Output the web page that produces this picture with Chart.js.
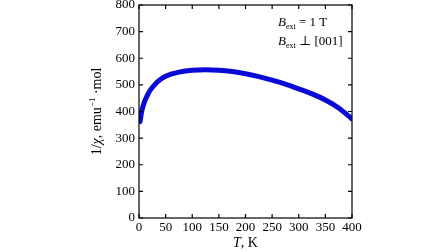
<!DOCTYPE html>
<html>
<head>
<meta charset="utf-8">
<script src="https://cdn.jsdelivr.net/npm/chart.js@4"></script>
<style>
    html, body { margin: 0; padding: 0; background: #fff; }
    #wrap { width: 448px; height: 252px; }
</style>
</head>
<body>
<div id="wrap"><canvas id="chart" width="448" height="252"></canvas></div>
<script>
// temperature, K
const temps = [2, 5, 10, 15, 20, 30, 40, 50, 60, 75, 100, 125, 150, 175, 200, 225, 250, 275, 300, 325, 350, 375, 400];
// inverse susceptibility, emu^-1 mol
const invChi = [362, 400, 435, 458, 477, 502, 520, 532, 540, 548, 555, 557, 555, 550, 542, 531, 518, 503, 485, 466, 443, 413, 372];

const xTicks = [0, 50, 100, 150, 200, 250, 300, 350, 400];
const yTicks = [0, 100, 200, 300, 400, 500, 600, 700, 800];

const serif = '"Liberation Serif", "DejaVu Serif", serif';

// text with an italic symbol and a small subscript
function drawSub(ctx, x, y, main, sub, rest) {
    ctx.textBaseline = 'alphabetic';
    ctx.textAlign = 'left';
    ctx.font = 'italic 13px ' + serif;
    ctx.fillText(main, x, y);
    x += ctx.measureText(main).width;
    ctx.font = '8px ' + serif;
    ctx.fillText(sub, x, y + 3);
    x += ctx.measureText(sub).width;
    ctx.font = '13px ' + serif;
    ctx.fillText(rest, x, y);
}

const framePlugin = {
    id: 'frame',
    afterDraw(chart) {
        const { ctx, chartArea: a, scales } = chart;
        ctx.save();
        ctx.strokeStyle = '#000';
        ctx.lineWidth = 1.2;
        ctx.strokeRect(a.left, a.top, a.right - a.left, a.bottom - a.top);

        // inward ticks on every side
        ctx.beginPath();
        xTicks.forEach(v => {
            const px = scales.x.getPixelForValue(v);
            ctx.moveTo(px, a.bottom); ctx.lineTo(px, a.bottom - 4);
            ctx.moveTo(px, a.top); ctx.lineTo(px, a.top + 4);
        });
        yTicks.forEach(v => {
            const py = scales.y.getPixelForValue(v);
            ctx.moveTo(a.left, py); ctx.lineTo(a.left + 4, py);
            ctx.moveTo(a.right, py); ctx.lineTo(a.right - 4, py);
        });
        ctx.stroke();

        ctx.fillStyle = '#000';

        // x title
        const cx = (a.left + a.right) / 2;
        ctx.textBaseline = 'alphabetic';
        ctx.font = 'italic 14px ' + serif;
        const tW = ctx.measureText('T').width;
        ctx.font = '14px ' + serif;
        const kW = ctx.measureText(', K').width;
        let x0 = cx - (tW + kW) / 2;
        ctx.textAlign = 'left';
        ctx.font = 'italic 14px ' + serif;
        ctx.fillText('T', x0, 247);
        ctx.font = '14px ' + serif;
        ctx.fillText(', K', x0 + tW, 247);

        // y title, rotated
        ctx.save();
        ctx.translate(101, (a.top + a.bottom) / 2);
        ctx.rotate(-Math.PI / 2);
        const parts = [
            ['1/', '14px ', 0],
            ['\u03c7', 'italic 14px ', 0],
            [', emu', '14px ', 0],
            ['\u22121', '9px ', -6],
            [' \u00b7mol', '14px ', 0]
        ];
        let total = 0;
        parts.forEach(p => { ctx.font = p[1] + serif; total += ctx.measureText(p[0]).width; });
        let px = -total / 2;
        parts.forEach(p => {
            ctx.font = p[1] + serif;
            ctx.fillText(p[0], px, p[2]);
            px += ctx.measureText(p[0]).width;
        });
        ctx.restore();

        // field annotation
        drawSub(ctx, 278, 26, 'B', 'ext', ' = 1 T');
        drawSub(ctx, 278, 45, 'B', 'ext', ' \u22a5 [001]');

        ctx.restore();
    }
};

new Chart(document.getElementById('chart'), {
    type: 'line',
    data: {
        datasets: [{
            data: temps.map((t, i) => ({ x: t, y: invChi[i] })),
            borderColor: '#0a0ad8',
            backgroundColor: '#0a0ad8',
            borderWidth: 5,
            pointRadius: 0,
            cubicInterpolationMode: 'monotone',
            borderCapStyle: 'round'
        }]
    },
    options: {
        responsive: false,
        animation: false,
        layout: { padding: { left: 0, right: 96, top: 5, bottom: 0 } },
        plugins: { legend: { display: false }, tooltip: { enabled: false } },
        scales: {
            x: {
                type: 'linear',
                min: 0, max: 400,
                afterFit: s => { s.height = 34; s.paddingLeft = 0; s.paddingRight = 0; },
                afterBuildTicks: s => { s.ticks = xTicks.map(v => ({ value: v })); },
                grid: { display: false, drawTicks: false, tickLength: 0 },
                border: { display: false },
                ticks: {
                    autoSkip: false, maxRotation: 0, padding: 2,
                    color: '#000', font: { family: serif, size: 13 }
                }
            },
            y: {
                min: 0, max: 800,
                afterFit: s => { s.width = 139; s.paddingTop = 0; s.paddingBottom = 0; },
                afterBuildTicks: s => { s.ticks = yTicks.map(v => ({ value: v })); },
                grid: { display: false, drawTicks: false, tickLength: 0 },
                border: { display: false },
                ticks: {
                    autoSkip: false, padding: 4,
                    color: '#000', font: { family: serif, size: 13 }
                }
            }
        }
    },
    plugins: [framePlugin]
});
</script>
</body>
</html>
